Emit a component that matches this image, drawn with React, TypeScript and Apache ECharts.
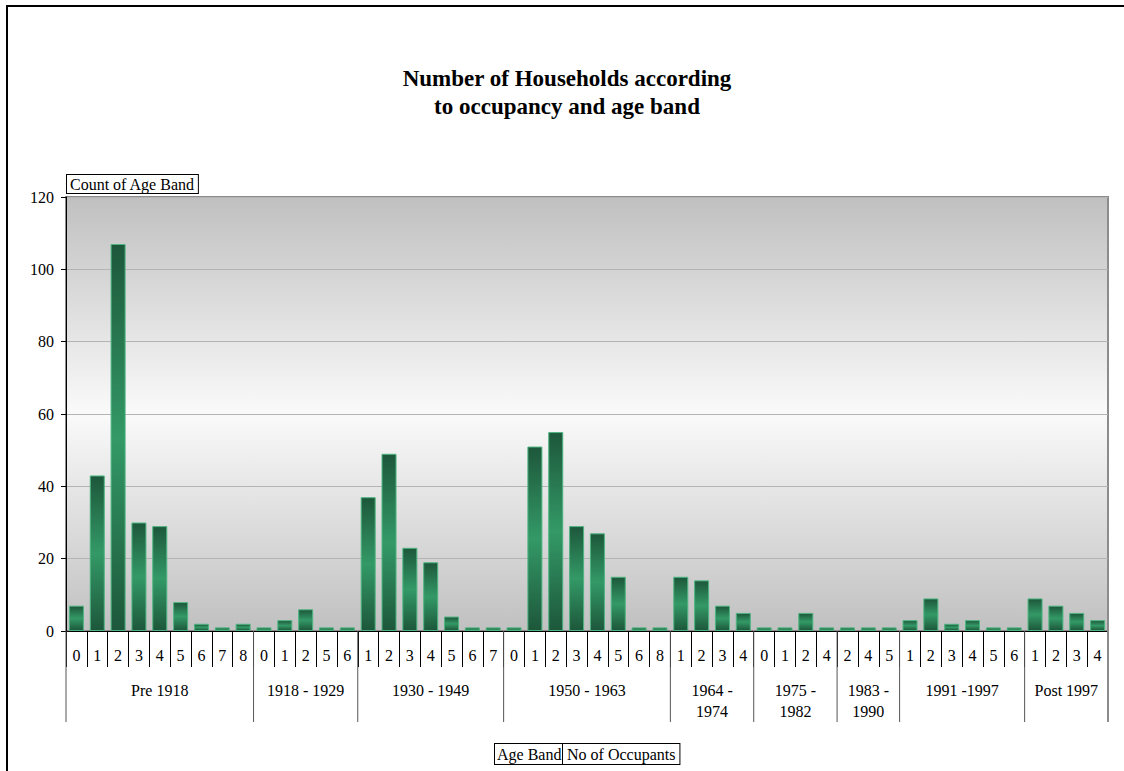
import React, { useEffect, useRef } from "react";
import * as echarts from "echarts";

// Number of occupants within each age band (inner axis level)
const occupants: string[] = [
  "0", "1", "2", "3", "4", "5", "6", "7", "8",
  "0", "1", "2", "5", "6",
  "1", "2", "3", "4", "5", "6", "7",
  "0", "1", "2", "3", "4", "5", "6", "8",
  "1", "2", "3", "4",
  "0", "1", "2", "4",
  "2", "4", "5",
  "1", "2", "3", "4", "5", "6",
  "1", "2", "3", "4",
];

// Household counts, one per occupant category
const counts: number[] = [
  7, 43, 107, 30, 29, 8, 2, 1, 2,
  1, 3, 6, 1, 1,
  37, 49, 23, 19, 4, 1, 1,
  1, 51, 55, 29, 27, 15, 1, 1,
  15, 14, 7, 5,
  1, 1, 5, 1,
  1, 1, 1,
  3, 9, 2, 3, 1, 1,
  9, 7, 5, 3,
];

// Age bands (outer axis level) and how many occupant categories each spans
const ageBands: string[] = [
  "Pre 1918", "1918 - 1929", "1930 - 1949", "1950 - 1963",
  "1964 -\n1974", "1975 -\n1982", "1983 -\n1990", "1991 -1997", "Post 1997",
];
const bandSizes: number[] = [9, 5, 7, 8, 4, 4, 3, 6, 4];

const yTicks = { min: 0, max: 120, interval: 20 };

const SERIF = '"Liberation Serif", "Times New Roman", serif';
const FONT = `16px ${SERIF}`;

export default function App() {
  const ref = useRef<HTMLDivElement>(null);

  useEffect(() => {
    if (!ref.current) return;
    const chart = echarts.init(ref.current, undefined, { renderer: "svg" });

    // start/end category index for each age band
    const bandRanges: number[][] = [];
    let start = 0;
    bandSizes.forEach((n) => {
      bandRanges.push([start, start + n - 1]);
      start += n;
    });

    const barFill = new echarts.graphic.LinearGradient(0, 0, 0, 1, [
      { offset: 0, color: "#1d573b" },
      { offset: 0.5, color: "#339966" },
      { offset: 1, color: "#1d573b" },
    ]);

    const plotFill = new echarts.graphic.LinearGradient(0, 0, 0, 1, [
      { offset: 0, color: "#c0c0c0" },
      { offset: 0.5, color: "#fafafa" },
      { offset: 1, color: "#c0c0c0" },
    ]);

    const boxText = (text: string, left: number, top: number, padding: number[]) => ({
      type: "text",
      left,
      top,
      style: {
        text,
        font: FONT,
        fill: "#000",
        backgroundColor: "#fff",
        borderColor: "#000",
        borderWidth: 1,
        padding,
      },
    });

    const option: any = {
      animation: false,
      backgroundColor: "#ffffff",
      title: {
        text: "Number of Households according\nto occupancy and age band",
        left: 562,
        textAlign: "center",
        top: 59,
        textStyle: {
          fontFamily: SERIF,
          fontWeight: "bold",
          fontSize: 23,
          lineHeight: 28,
          color: "#000",
        },
      },
      grid: {
        left: 66,
        right: 16,
        top: 197,
        bottom: 140,
        show: true,
        backgroundColor: plotFill,
        borderColor: "#8c8c8c",
        borderWidth: 2,
      },
      xAxis: {
        type: "category",
        data: occupants,
        axisLine: { show: true, onZero: false, lineStyle: { color: "#000", width: 1 } },
        axisTick: { show: true, length: 36, lineStyle: { color: "#000" } },
        axisLabel: {
          margin: 16,
          fontFamily: SERIF,
          fontSize: 16,
          color: "#000",
          interval: 0,
        },
        splitLine: { show: false },
      },
      yAxis: {
        type: "value",
        min: yTicks.min,
        max: yTicks.max,
        interval: yTicks.interval,
        axisLine: { show: true, lineStyle: { color: "#000", width: 1 } },
        axisTick: { show: true, length: 5, lineStyle: { color: "#000" } },
        axisLabel: { margin: 12, fontFamily: SERIF, fontSize: 16, color: "#000" },
        splitLine: { show: true, lineStyle: { color: "#b4b4b4", width: 1 } },
      },
      series: [
        {
          type: "bar",
          data: counts,
          barCategoryGap: "28%",
          itemStyle: {
            color: barFill,
            borderColor: "#4db580",
            borderWidth: 1,
          },
          z: 3,
        },
        {
          // outer axis level: age band separators and labels
          type: "custom",
          clip: false,
          silent: true,
          z: 4,
          data: bandRanges,
          encode: { x: [0, 1] },
          renderItem: (params: any, api: any) => {
            const s = api.value(0);
            const e = api.value(1);
            const band = api.size([1, 0])[0];
            const p0 = api.coord([s, 0]);
            const p1 = api.coord([e, 0]);
            const left = p0[0] - band / 2;
            const right = p1[0] + band / 2;
            const y0 = p0[1];
            const children: any[] = [
              {
                type: "line",
                shape: { x1: left, y1: y0, x2: left, y2: y0 + 91 },
                style: { stroke: "#555", lineWidth: 1 },
              },
              {
                type: "text",
                style: {
                  text: ageBands[params.dataIndex],
                  x: (left + right) / 2,
                  y: y0 + 49,
                  align: "center",
                  verticalAlign: "top",
                  font: FONT,
                  lineHeight: 21,
                  fill: "#000",
                },
              },
            ];
            if (params.dataIndex === bandRanges.length - 1) {
              children.push({
                type: "line",
                shape: { x1: right, y1: y0, x2: right, y2: y0 + 91 },
                style: { stroke: "#8c8c8c", lineWidth: 2 },
              });
            }
            return { type: "group", children };
          },
        },
      ],
      graphic: [
        {
          type: "rect",
          shape: { x: 7, y: 6, width: 1300, height: 900 },
          style: { fill: "none", stroke: "#000", lineWidth: 2 },
          silent: true,
        },
        boxText("Count of Age Band", 66, 174, [1, 3, 1, 3]),
        boxText("Age Band", 494, 743, [2, 2, 2, 2]),
        boxText("No of Occupants", 562, 743, [2, 4, 2, 4]),
      ],
    };

    chart.setOption(option);
    return () => chart.dispose();
  }, []);

  return (
    <div
      ref={ref}
      style={{ position: "fixed", left: 0, top: 0, width: 1124, height: 771 }}
    />
  );
}
